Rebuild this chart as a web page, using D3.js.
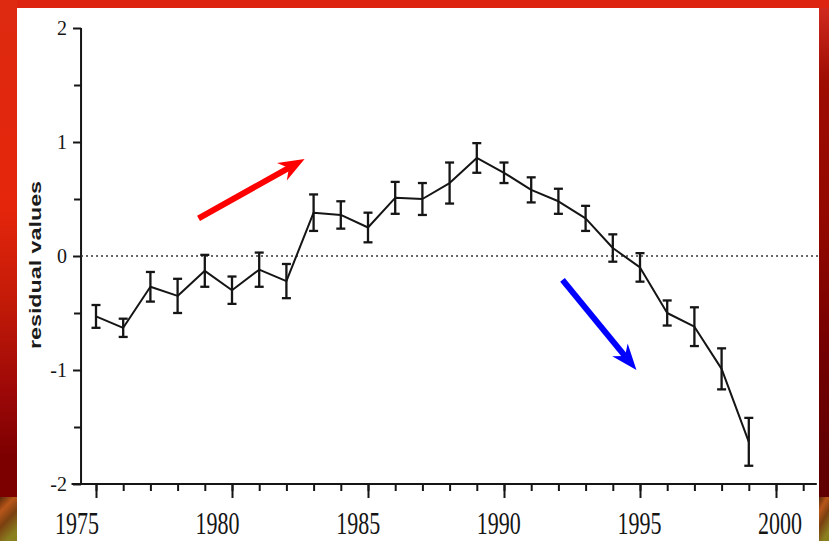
<!DOCTYPE html>
<html>
<head>
<meta charset="utf-8">
<script src="https://cdn.jsdelivr.net/npm/d3@7"></script>
<style>
  body { margin: 0; background: #fff; }
  svg { display: block; }
</style>
</head>
<body>
<svg id="chart"></svg>
<script>
// data
const years = [1975, 1976, 1977, 1978, 1979, 1980, 1981, 1982, 1983, 1984, 1985, 1986,
               1987, 1988, 1989, 1990, 1991, 1992, 1993, 1994, 1995, 1996, 1997, 1998, 1999];
const residuals = [-0.53, -0.63, -0.27, -0.35, -0.13, -0.30, -0.12, -0.22, 0.38, 0.36, 0.25, 0.51,
                   0.50, 0.64, 0.86, 0.73, 0.58, 0.48, 0.33, 0.07, -0.10, -0.50, -0.62, -0.99, -1.63];
const errors = [0.10, 0.08, 0.13, 0.15, 0.14, 0.12, 0.15, 0.15, 0.16, 0.12, 0.13, 0.14,
                0.14, 0.18, 0.13, 0.09, 0.11, 0.11, 0.11, 0.12, 0.125, 0.11, 0.17, 0.18, 0.21];
const yMajorTicks = [-2, -1, 0, 1, 2];
const yMinorTicks = [-1.5, -0.5, 0.5, 1.5];
const xMajorTicks = [1975, 1980, 1985, 1990, 1995, 2000];
const xMinorTicks = [1975, 1976, 1977, 1978, 1979, 1980, 1981, 1982, 1983, 1984, 1985, 1986, 1987,
                     1988, 1989, 1990, 1991, 1992, 1993, 1994, 1995, 1996, 1997, 1998, 1999, 2000, 2001];
// annotation arrows, in data units [year, value]
const redArrow = [[1978.77, 0.33], [1982.67, 0.85]];
const blueArrow = [[1992.15, -0.21], [1994.87, -1.0]];

const W = 829, H = 541;
const svg = d3.select('#chart').attr('width', W).attr('height', H);

// ---- background frame ----
const defs = svg.append('defs');
const lg = defs.append('linearGradient').attr('id', 'leftG').attr('x1', 0).attr('y1', 0).attr('x2', 0).attr('y2', 1);
[[0, '#dd2a10'], [0.42, '#e4250b'], [0.6, '#c41b08'], [0.8, '#9a0707'], [0.92, '#7c0000']]
  .forEach(s => lg.append('stop').attr('offset', s[0]).attr('stop-color', s[1]));
const rg = defs.append('linearGradient').attr('id', 'rightG').attr('x1', 0).attr('y1', 0).attr('x2', 0).attr('y2', 1);
[[0, '#d02a20'], [0.15, '#9e0c02'], [0.45, '#920800'], [0.7, '#740000'], [0.92, '#620000']]
  .forEach(s => rg.append('stop').attr('offset', s[0]).attr('stop-color', s[1]));
const tg = defs.append('linearGradient').attr('id', 'texG').attr('x1', 0).attr('y1', 0).attr('x2', 0.4).attr('y2', 1);
[[0, '#5a2a08'], [0.3, '#b8561a'], [0.6, '#7a4010'], [1, '#8a8020']]
  .forEach(s => tg.append('stop').attr('offset', s[0]).attr('stop-color', s[1]));

svg.append('rect').attr('width', W).attr('height', H).attr('fill', '#dc2410');
svg.append('rect').attr('x', 0).attr('y', 0).attr('width', 17).attr('height', 497).attr('fill', 'url(#leftG)');
svg.append('rect').attr('x', 819).attr('y', 8).attr('width', 10).attr('height', 489).attr('fill', 'url(#rightG)');
svg.append('rect').attr('x', 0).attr('y', 497).attr('width', 17).attr('height', 44).attr('fill', 'url(#texG)');
svg.append('rect').attr('x', 819).attr('y', 497).attr('width', 10).attr('height', 44).attr('fill', 'url(#texG)');
svg.append('rect').attr('x', 17).attr('y', 8).attr('width', 802).attr('height', 533).attr('fill', '#fff');

// ---- scales ----
const x = d3.scaleLinear().domain([1975, 2000]).range([96, 776]);
const xLab = d3.scaleLinear().domain([1975, 2000]).range([77, 780]);
const y = d3.scaleLinear().domain([-2, 2]).range([484, 28]);

const ink = '#151515';

// ---- y axis ----
const yAxisG = svg.append('g').attr('transform', `translate(${x(1974.45)},0)`);
yAxisG.call(d3.axisLeft(y).tickValues(yMajorTicks).tickSize(8).tickPadding(6)
  .tickFormat(d => d < 0 ? '-' + Math.abs(d) : d));
yAxisG.append('g').call(d3.axisLeft(y).tickValues(yMinorTicks).tickSize(7).tickFormat(''));
yAxisG.selectAll('.domain').remove();
yAxisG.selectAll('line').attr('stroke', ink).attr('stroke-width', 2);
yAxisG.selectAll('text')
  .attr('fill', ink)
  .style('font-family', '"Liberation Serif", "Times New Roman", serif')
  .style('font-size', '20px');
svg.append('line')
  .attr('x1', x(1974.45)).attr('x2', x(1974.45))
  .attr('y1', y(2)).attr('y2', y(-2))
  .attr('stroke', ink).attr('stroke-width', 2);

// ---- x axis ----
const xAxisG = svg.append('g').attr('transform', `translate(0,${y(-2)})`);
xAxisG.call(d3.axisBottom(x).tickValues(xMinorTicks).tickSize(7).tickFormat(''));
xAxisG.append('g').call(d3.axisBottom(x).tickValues(xMajorTicks).tickSize(14).tickFormat(''));
xAxisG.selectAll('.domain').remove();
xAxisG.selectAll('line').attr('stroke', ink).attr('stroke-width', 2);
svg.append('line')
  .attr('x1', x(1974.1)).attr('x2', x(2001.5))
  .attr('y1', y(-2)).attr('y2', y(-2))
  .attr('stroke', ink).attr('stroke-width', 2);

svg.append('g').selectAll('text').data(xMajorTicks).join('text')
  .attr('transform', d => `translate(${xLab(d)},534) scale(1,1.45)`)
  .attr('text-anchor', 'middle')
  .attr('fill', ink)
  .style('font-family', '"Liberation Serif", "Times New Roman", serif')
  .style('font-size', '22px')
  .text(d => d);

// y title
svg.append('text')
  .attr('transform', `translate(41,265) rotate(-90)`)
  .attr('text-anchor', 'middle')
  .attr('textLength', 168)
  .attr('lengthAdjust', 'spacingAndGlyphs')
  .attr('fill', '#1a1a1a')
  .style('font-family', '"Liberation Sans", Arial, sans-serif')
  .style('font-weight', 'bold')
  .style('font-size', '16px')
  .text('residual values');

// zero reference line
svg.append('line')
  .attr('x1', x(1974.45)).attr('x2', 819)
  .attr('y1', y(0)).attr('y2', y(0))
  .attr('stroke', '#333').attr('stroke-width', 1.6)
  .attr('stroke-dasharray', '2,3');

// ---- series ----
const pts = years.map((yr, i) => ({ yr: yr, v: residuals[i], e: errors[i] }));

svg.append('path')
  .datum(pts)
  .attr('fill', 'none')
  .attr('stroke', ink)
  .attr('stroke-width', 2)
  .attr('stroke-linejoin', 'round')
  .attr('d', d3.line().x(d => x(d.yr)).y(d => y(d.v)));

const bars = svg.append('g').attr('stroke', ink).attr('stroke-width', 2.3);
bars.selectAll('.eb').data(pts).join('line')
  .attr('class', 'eb')
  .attr('x1', d => x(d.yr)).attr('x2', d => x(d.yr))
  .attr('y1', d => y(d.v + d.e)).attr('y2', d => y(d.v - d.e));
bars.selectAll('.capT').data(pts).join('line')
  .attr('class', 'capT')
  .attr('x1', d => x(d.yr) - 4.5).attr('x2', d => x(d.yr) + 4.5)
  .attr('y1', d => y(d.v + d.e)).attr('y2', d => y(d.v + d.e));
bars.selectAll('.capB').data(pts).join('line')
  .attr('class', 'capB')
  .attr('x1', d => x(d.yr) - 4.5).attr('x2', d => x(d.yr) + 4.5)
  .attr('y1', d => y(d.v - d.e)).attr('y2', d => y(d.v - d.e));

// ---- arrows ----
function drawArrow(a, color) {
  const x0 = x(a[0][0]), y0 = y(a[0][1]), x1 = x(a[1][0]), y1 = y(a[1][1]);
  const ang = Math.atan2(y1 - y0, x1 - x0);
  const len = 26, half = 10, notch = 18;
  const ux = Math.cos(ang), uy = Math.sin(ang);
  const px = -uy, py = ux;
  const bx = x1 - ux * len, by = y1 - uy * len;
  const nx = x1 - ux * notch, ny = y1 - uy * notch;
  svg.append('line')
    .attr('x1', x0).attr('y1', y0).attr('x2', nx).attr('y2', ny)
    .attr('stroke', color).attr('stroke-width', 6);
  svg.append('path')
    .attr('d', `M${x1},${y1}L${bx + px * half},${by + py * half}L${nx},${ny}L${bx - px * half},${by - py * half}Z`)
    .attr('fill', color);
}
drawArrow(redArrow, '#ff0000');
drawArrow(blueArrow, '#0000ff');
</script>
</body>
</html>
